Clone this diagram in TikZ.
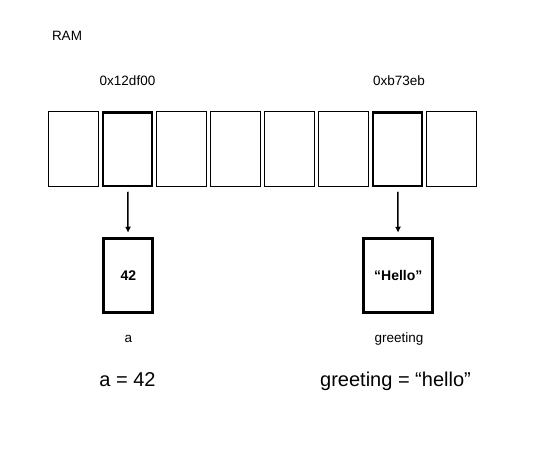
\documentclass[tikz,border=0pt]{standalone}
\usepackage{fontspec}
\setmainfont{Liberation Sans}
\usetikzlibrary{arrows.meta}
\begin{document}
\begin{tikzpicture}[x=1pt,y=-1pt,
  cell/.style={draw,line width=1pt,minimum width=50pt,minimum height=75pt,inner sep=0pt,outer sep=0pt},
  selcell/.style={cell,line width=2.5pt,minimum width=49pt,minimum height=73.5pt},
  valbox/.style={draw,line width=3pt,inner sep=0pt,outer sep=0pt,font=\fontsize{14}{16}\selectfont\bfseries},
  lbl/.style={anchor=base,inner sep=0pt,font=\fontsize{13.5}{16}\selectfont},
  big/.style={anchor=base,inner sep=0pt,font=\fontsize{20}{23}\selectfont},
  ptr/.style={line width=1.5pt,-{Latex[length=6pt,width=6pt]},shorten <=6pt,shorten >=5.5pt}]
\useasboundingbox (0,0) rectangle (557,450);
\node[lbl] (ram) at (67,40) {RAM};
\node[lbl] (addra) at (127.5,85.7) {0x12df00};
\node[lbl] (addrg) at (399,85.7) {0xb73eb};
\node[cell] (c1) at (73.5,149) {};
\node[selcell] (c2) at (127.5,149) {};
\node[cell] (c3) at (181.5,149) {};
\node[cell] (c4) at (235.5,149) {};
\node[cell] (c5) at (289.5,149) {};
\node[cell] (c6) at (343.5,149) {};
\node[selcell] (c7) at (397.5,149) {};
\node[cell] (c8) at (451.5,149) {};
\node[valbox,minimum width=49pt,minimum height=74.5pt] (va) at (128.3,275.5) {42};
\node[valbox,minimum width=69pt,minimum height=74.5pt] (vg) at (398.3,275.5) {“Hello”};
\draw[ptr] (c2) -- (va);
\draw[ptr] (c7) -- (vg);
\node[lbl] (na) at (128.5,342) {a};
\node[lbl] (ng) at (399,342) {greeting};
\node[big] (ea) at (127.5,386.7) {a = 42};
\node[big,anchor=base west] (eg) at (320,386.7) {greeting = “hello”};
\end{tikzpicture}
\end{document}
